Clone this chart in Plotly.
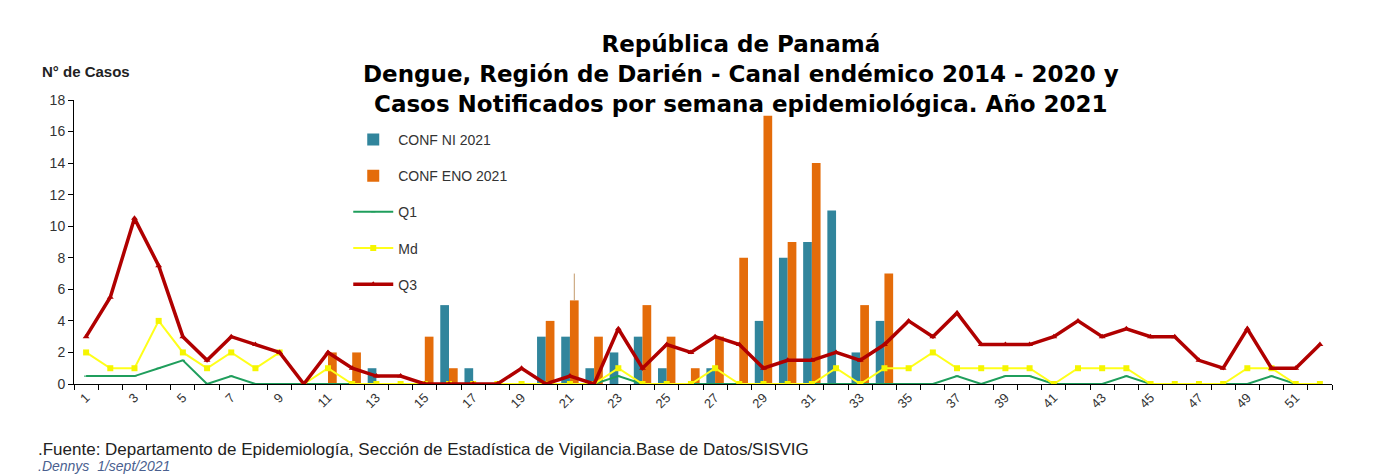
import plotly.graph_objects as go

weeks = list(range(1, 53))

conf_ni = [0, 0, 0, 0, 0, 0, 0, 0, 0, 0,
           0, 0, 1, 0, 0, 5, 1, 0, 0, 3,
           3, 1, 2, 3, 1, 0, 1, 0, 4, 8,
           9, 11, 2, 4, 0, 0, 0, 0, 0, 0,
           0, 0, 0, 0, 0, 0, 0, 0, 0, 0,
           0, 0]
conf_eno = [0, 0, 0, 0, 0, 0, 0, 0, 0, 0,
            2, 2, 0, 0, 3, 1, 0, 0, 0, 4,
            5.3, 3, 0, 5, 3, 1, 3, 8, 17, 9,
            14, 0, 5, 7, 0, 0, 0, 0, 0, 0,
            0, 0, 0, 0, 0, 0, 0, 0, 0, 0,
            0, 0]
eno_extra = [0] * 20 + [1.7] + [0] * 31

q1 = [0.5, 0.5, 0.5, 1, 1.5, 0, 0.5, 0, 0, 0,
      0, 0, 0, 0, 0, 0, 0, 0, 0, 0,
      0, 0, 0.5, 0, 0, 0, 0, 0, 0, 0,
      0, 0, 0, 0, 0, 0, 0.5, 0, 0.5, 0.5,
      0, 0, 0, 0.5, 0, 0, 0, 0, 0, 0.5,
      0, None]
md = [2, 1, 1, 4, 2, 1, 2, 1, 2, 0,
      1, 0, 0, 0, 0, 0, 0, 0, 0, 0,
      0, 0, 1, 0, 0, 0, 1, 0, 0, 0,
      0, 1, 0, 1, 1, 2, 1, 1, 1, 1,
      0, 1, 1, 1, 0, 0, 0, 0, 1, 1,
      0, 0]
q3 = [3, 5.5, 10.5, 7.5, 3, 1.5, 3, 2.5, 2, 0,
      2, 1, 0.5, 0.5, 0, 0, 0, 0, 1, 0,
      0.5, 0, 3.5, 1, 2.5, 2, 3, 2.5, 1, 1.5,
      1.5, 2, 1.5, 2.5, 4, 3, 4.5, 2.5, 2.5, 2.5,
      3, 4, 3, 3.5, 3, 3, 1.5, 1, 3.5, 1,
      1, 2.5]

odd_ticks = list(range(1, 52, 2))
y_ticks = list(range(0, 19, 2))

title_lines = ["República de Panamá",
               "Dengue, Región de Darién - Canal endémico 2014 - 2020 y",
               "Casos Notificados por semana epidemiológica. Año 2021"]

FONT = "Liberation Sans, Arial, sans-serif"

fig = go.Figure()
fig.add_trace(go.Bar(x=weeks, y=conf_ni, name="CONF NI 2021",
                     marker=dict(color="#31859c", line=dict(width=0)),
                     legendgroup="a"))
fig.add_trace(go.Bar(x=weeks, y=conf_eno, name="CONF ENO 2021",
                     marker=dict(color="#e46c0a", line=dict(width=0)),
                     error_y=dict(type="data", array=eno_extra, arrayminus=[0] * 52,
                                  symmetric=False, visible=True, thickness=1,
                                  width=0, color="#c49a6c"),
                     legendgroup="b"))
fig.add_trace(go.Scatter(x=weeks, y=q1, name="Q1", mode="lines+markers",
                         line=dict(color="#1f9e5c", width=2),
                         marker=dict(color="#1f9e5c", size=3, symbol="line-ew",
                                     line=dict(color="#1f9e5c", width=1)),
                         legendgroup="c"))
fig.add_trace(go.Scatter(x=weeks, y=md, name="Md", mode="lines+markers",
                         line=dict(color="#ffff1a", width=2),
                         marker=dict(color="#f5f500", size=6, symbol="square"),
                         legendgroup="d"))
fig.add_trace(go.Scatter(x=weeks, y=q3, name="Q3", mode="lines+markers",
                         line=dict(color="#b00000", width=3.5),
                         marker=dict(color="#b00000", size=6, symbol="triangle-up"),
                         legendgroup="e"))

fig.update_layout(
    width=1382, height=474,
    margin=dict(l=74, r=50, t=100, b=90),
    paper_bgcolor="white", plot_bgcolor="white",
    barmode="group", bargap=0.28, bargroupgap=0,
    font=dict(family=FONT, color="#333333", size=13),
    legend=dict(x=0.218, y=0.916, xanchor="left", yanchor="top",
                bgcolor="rgba(0,0,0,0)", tracegroupgap=15,
                font=dict(family=FONT, size=14, color="#333333"),
                itemwidth=40),
    showlegend=True,
)

fig.update_xaxes(
    range=[0.5, 52.5], tickmode="array", tickvals=odd_ticks,
    ticktext=[str(v) for v in odd_ticks], tickangle=-45,
    ticks="", showline=True, linecolor="#000000", linewidth=1,
    showgrid=False, zeroline=False,
    tickfont=dict(family=FONT, size=13, color="#333333"),
    minor=dict(tickmode="linear", tick0=0.5, dtick=1, ticks="outside",
               ticklen=5, tickcolor="#000000", showgrid=False),
)
fig.update_yaxes(
    range=[0, 18], tickmode="array", tickvals=y_ticks,
    ticks="outside", ticklen=5, tickcolor="#000000",
    showline=True, linecolor="#000000", linewidth=1,
    showgrid=False, zeroline=False,
    tickfont=dict(family=FONT, size=14, color="#333333"),
)

fig.add_annotation(text="<b>" + "<br>".join(title_lines) + "</b>",
                   xref="paper", yref="paper",
                   x=0.530, y=1.09, xanchor="center", yanchor="middle",
                   align="center", showarrow=False,
                   font=dict(family="DejaVu Sans, sans-serif", size=23, color="#000000"))

fig.add_annotation(text="<b>N° de Casos</b>", xref="paper", yref="paper",
                   x=-0.027, y=1.10, xanchor="left", yanchor="middle", showarrow=False,
                   font=dict(family=FONT, size=15, color="#222222"))
fig.add_annotation(text=".Fuente: Departamento de Epidemiología, Sección de Estadística de Vigilancia.Base de Datos/SISVIG",
                   xref="paper", yref="paper", x=-0.030, y=-0.229, xanchor="left",
                   yanchor="middle", showarrow=False,
                   font=dict(family=FONT, size=17, color="#222222"))
fig.add_annotation(text="<i>.Dennys&nbsp;&nbsp;1/sept/2021</i>",
                   xref="paper", yref="paper", x=-0.030, y=-0.290, xanchor="left",
                   yanchor="middle", showarrow=False,
                   font=dict(family=FONT, size=14, color="#4a5f8f"))

fig.write_html("out.html", config={"displayModeBar": False},
               post_script="document.body.style.margin='0';document.body.style.overflow='hidden';")
